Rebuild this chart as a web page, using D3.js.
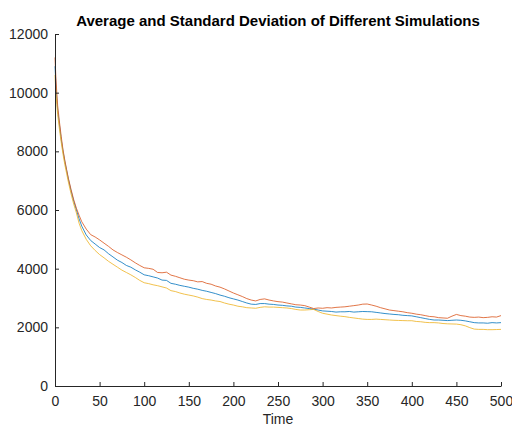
<!DOCTYPE html>
<html><head><meta charset="utf-8">
<script src="https://cdn.jsdelivr.net/npm/d3@7"></script>
<style>body{margin:0;background:#fff;}svg{display:block;}</style>
</head><body>
<script>
const times = [0,1,2,3,5,7,9,11,13,15,18,21,24,27,30,35,40,45,50,55,60,65,70,75,80,85,90,95,100,105,110,115,120,125,130,135,140,145,150,155,160,165,170,175,180,185,190,195,200,205,210,215,220,225,230,235,240,245,250,255,260,265,270,275,280,285,290,295,300,305,310,315,320,325,330,335,340,345,350,355,360,365,370,375,380,385,390,395,400,405,410,415,420,425,430,435,440,445,450,455,460,465,470,475,480,485,490,495,500];
const meanSeries = [10900,10300,9800,9400,8900,8400,8000,7650,7350,7050,6650,6300,6000,5700,5450,5150,4960,4840,4720,4640,4510,4400,4290,4210,4110,4050,3960,3880,3790,3760,3720,3680,3610,3600,3500,3470,3430,3400,3370,3330,3300,3260,3230,3190,3150,3100,3060,3010,2970,2930,2880,2830,2790,2780,2810,2810,2790,2780,2760,2750,2730,2720,2690,2680,2660,2640,2620,2590,2560,2550,2540,2520,2530,2530,2540,2520,2530,2540,2535,2530,2510,2490,2470,2455,2440,2430,2410,2400,2390,2360,2330,2300,2270,2250,2250,2240,2230,2240,2250,2240,2220,2190,2160,2150,2150,2140,2160,2150,2160];
const upperSeries = [11200,10500,10000,9550,9000,8500,8050,7700,7380,7080,6700,6350,6060,5820,5600,5350,5160,5080,4980,4870,4760,4640,4550,4470,4390,4300,4200,4110,4030,4010,3980,3870,3860,3880,3780,3740,3690,3640,3610,3590,3550,3560,3500,3470,3410,3370,3310,3240,3170,3110,3050,2980,2930,2900,2950,2970,2930,2900,2875,2860,2830,2800,2770,2760,2740,2690,2640,2660,2650,2670,2660,2680,2690,2700,2720,2740,2760,2790,2795,2760,2720,2670,2630,2590,2570,2550,2530,2500,2480,2450,2430,2400,2370,2360,2330,2320,2310,2380,2440,2400,2380,2350,2340,2350,2330,2340,2360,2350,2400];
const lowerSeries = [10600,10000,9600,9250,8750,8300,7900,7550,7250,6950,6550,6200,5900,5550,5300,5000,4780,4620,4480,4370,4250,4150,4050,3950,3870,3790,3700,3600,3520,3490,3450,3420,3380,3340,3250,3220,3170,3130,3100,3070,3030,2980,2950,2930,2900,2880,2830,2790,2760,2720,2700,2670,2660,2650,2680,2700,2690,2690,2680,2670,2660,2640,2610,2590,2590,2600,2610,2540,2480,2450,2420,2400,2380,2365,2340,2320,2300,2280,2270,2270,2280,2270,2260,2250,2240,2235,2230,2225,2225,2200,2190,2170,2160,2160,2150,2130,2120,2115,2110,2090,2050,1990,1940,1930,1930,1920,1920,1925,1930];
const xTicks = [0,50,100,150,200,250,300,350,400,450,500];
const yTicks = [0,2000,4000,6000,8000,10000,12000];
const titleText = "Average and Standard Deviation of Different Simulations";
const xLabel = "Time";
const seriesList = [
  {name:"mean", values: meanSeries, color:"#0072BD"},
  {name:"mean+std", values: upperSeries, color:"#D95319"},
  {name:"mean-std", values: lowerSeries, color:"#EDB120"}
];

const W = 512, H = 427;
const m = {left:55, right:11, top:34, bottom:41};
const svg = d3.select("body").append("svg").attr("width", W).attr("height", H);
const x = d3.scaleLinear().domain([0,500]).range([m.left, W - m.right]);
const y = d3.scaleLinear().domain([0,12000]).range([H - m.bottom, m.top]);
const axisColor = "#262626";
const font = "'Liberation Sans', Arial, Helvetica, sans-serif";

// lines
const line = d3.line().x((d,i)=>x(times[i])).y(d=>y(d));
seriesList.forEach(s=>{
  svg.append("path").datum(s.values).attr("d", line)
    .attr("fill","none").attr("stroke", s.color).attr("stroke-width", 0.8)
    .attr("stroke-linejoin","round");
});

// x axis
const xAxis = d3.axisBottom(x).tickValues(xTicks).tickSizeInner(-4).tickSizeOuter(0).tickPadding(10);
const gx = svg.append("g").attr("transform", `translate(0,${H - m.bottom})`).call(xAxis);
// y axis
const yAxis = d3.axisLeft(y).tickValues(yTicks).tickSizeInner(-4).tickSizeOuter(0).tickPadding(7).tickFormat(d3.format("d"));
const gy = svg.append("g").attr("transform", `translate(${m.left},0)`).call(yAxis);
[gx, gy].forEach(g=>{
  g.select(".domain").attr("stroke", axisColor).attr("stroke-width", 1);
  g.selectAll(".tick line").attr("stroke", axisColor).attr("stroke-width", 1);
  g.selectAll(".tick text").attr("fill", axisColor).style("font-family", font).style("font-size","14px");
});

// title
svg.append("text").attr("x", (m.left + W - m.right)/2).attr("y", 26)
  .attr("text-anchor","middle").style("font-family", font).style("font-weight","bold")
  .style("font-size","15px").attr("fill","#000").text(titleText);
// x label
svg.append("text").attr("x", (m.left + W - m.right)/2).attr("y", 424)
  .attr("text-anchor","middle").style("font-family", font)
  .style("font-size","14px").attr("fill", axisColor).text(xLabel);
</script>
</body></html>
